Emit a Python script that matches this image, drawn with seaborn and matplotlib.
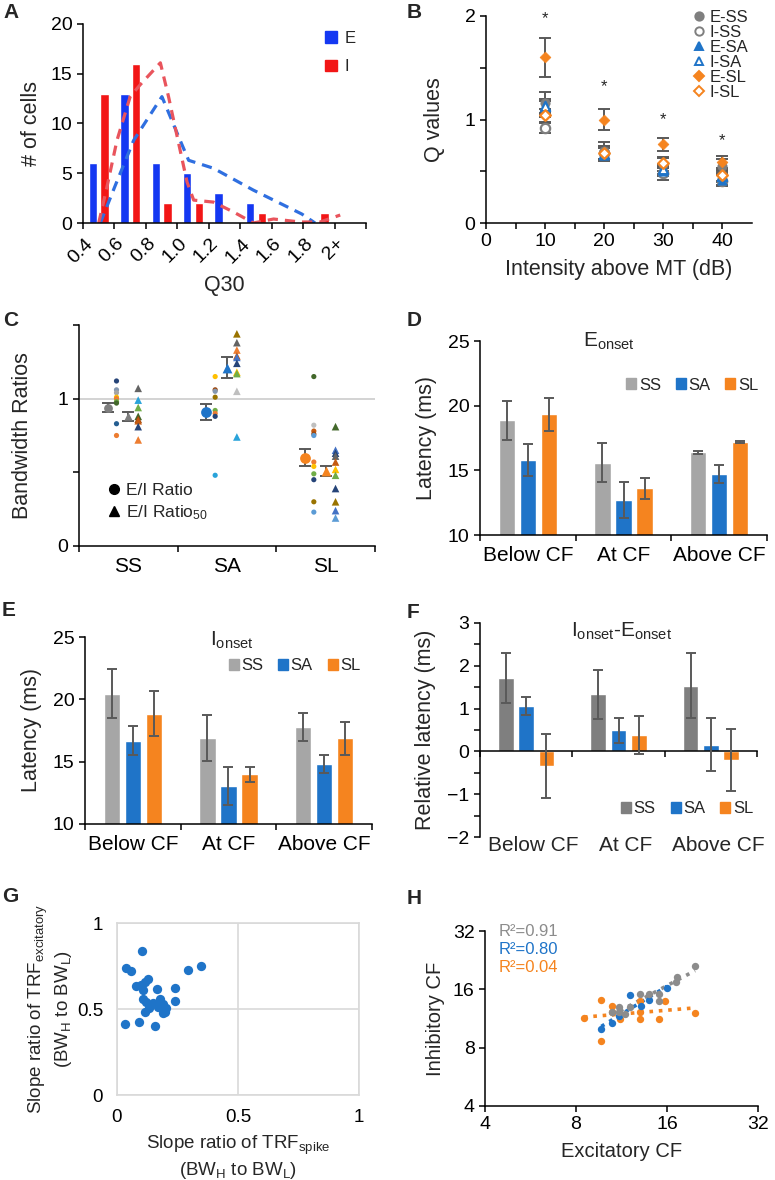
import numpy as np
import pandas as pd
import matplotlib
matplotlib.use("Agg")
import matplotlib.pyplot as plt
import matplotlib.transforms as mtransforms
import seaborn as sns
from matplotlib.patches import Patch
from matplotlib.lines import Line2D

sns.set_style("ticks")
plt.rcParams['font.family'] = ['Liberation Sans', 'DejaVu Sans']
plt.rcParams['mathtext.default'] = 'regular'
plt.rcParams['axes.linewidth'] = 1.1
plt.rcParams['xtick.major.width'] = 1.1
plt.rcParams['ytick.major.width'] = 1.1
plt.rcParams['xtick.minor.width'] = 1.1
plt.rcParams['ytick.minor.width'] = 1.1
plt.rcParams['xtick.major.size'] = 4
plt.rcParams['ytick.major.size'] = 4
plt.rcParams['xtick.minor.size'] = 4
plt.rcParams['ytick.minor.size'] = 4
plt.rcParams['axes.edgecolor'] = 'black'
plt.rcParams['xtick.color'] = 'black'
plt.rcParams['ytick.color'] = 'black'

# ---------------- DATA ----------------
# A : Q30 histogram
q30_labels = ['0.4', '0.6', '0.8', '1.0', '1.2', '1.4', '1.6', '1.8', '2+']
E_counts = [6, 13, 6, 5, 3, 2, 0, 0, 0]
I_counts = [13, 16, 2, 2, 0, 1, 0, 1, 0]
E_curve_pos = [0.55, 1.03, 1.61, 2.51, 3.09, 3.36, 4.15, 5.42, 6.96, 7.38]
E_curve_val = [0, 3.8, 8.3, 12.7, 8.3, 6.3, 5.5, 3.3, 0.9, 0]
I_curve_pos = [0.5, 0.76, 1.08, 1.5, 1.82, 2.46, 2.72, 3.09, 3.31, 3.52, 4.15, 4.79, 5.42,
               6.06, 6.91, 7.54, 8.18]
I_curve_val = [0, 3.6, 8.3, 12.7, 13.9, 16.1, 12.7, 7.3, 4.1, 2.3, 2.1, 1.1, 0, 0.4, 0.1, 0.1, 0.8]

# B : Q values vs intensity
B_x = [10, 20, 30, 40]
B_E_SS = [1.16, 0.70, 0.57, 0.55]; B_E_SS_err = [0.11, 0.08, 0.07, 0.07]
B_I_SS = [0.92, 0.68, 0.48, 0.41]; B_I_SS_err = [0.05, 0.06, 0.06, 0.05]
B_E_SA = [1.10, 0.66, 0.50, 0.42]; B_E_SA_err = [0.08, 0.06, 0.05, 0.05]
B_I_SA = [1.13, 0.67, 0.52, 0.45]; B_I_SA_err = [0.07, 0.05, 0.05, 0.05]
B_E_SL = [1.60, 1.00, 0.76, 0.59]; B_E_SL_err = [0.19, 0.10, 0.06, 0.06]
B_I_SL = [1.04, 0.68, 0.58, 0.46]; B_I_SL_err = [0.06, 0.06, 0.05, 0.05]
B_star_y = [1.97, 1.32, 1.00, 0.80]

# C : bandwidth ratios
C_cats = ['SS', 'SA', 'SL']
C_ratio_mean = [0.94, 0.91, 0.60]
C_ratio_err = [0.03, 0.055, 0.06]
C_ratio50_mean = [0.88, 1.21, 0.51]
C_ratio50_err = [0.03, 0.07, 0.035]
C_SS_ratio = [1.12, 1.06, 1.04, 1.01, 1.00, 0.98, 0.97, 0.83, 0.75]
C_SS_ratio_col = ['#264478', '#8497B0', '#A5A5A5', '#FFC000', '#ED7D31', '#70AD47', '#43682B', '#255E91', '#ED7D31']
C_SS_ratio50 = [1.07, 0.99, 0.94, 0.88, 0.86, 0.85, 0.81, 0.72]
C_SS_ratio50_col = ['#636363', '#29A3DA', '#70AD47', '#43682B', '#9E480E', '#C55A11', '#264478', '#ED7D31']
C_SA_ratio = [1.15, 1.06, 1.05, 1.01, 0.92, 0.90, 0.88, 0.48]
C_SA_ratio_col = ['#FFC000', '#9E480E', '#8497B0', '#997300', '#70AD47', '#ED7D31', '#264478', '#29A3DA']
C_SA_ratio50 = [1.44, 1.38, 1.33, 1.29, 1.28, 1.24, 1.18, 1.17, 1.05, 0.74]
C_SA_ratio50_col = ['#997300', '#636363', '#ED7D31', '#C55A11', '#4472C4', '#264478', '#FFC000', '#70AD47', '#BFBFBF', '#29A3DA']
C_SL_ratio = [1.15, 0.82, 0.78, 0.76, 0.75, 0.57, 0.54, 0.49, 0.45, 0.30, 0.23]
C_SL_ratio_col = ['#43682B', '#BFBFBF', '#C55A11', '#9E480E', '#5B9BD5', '#ED7D31', '#FFC000', '#70AD47', '#264478', '#997300', '#5B9BD5']
C_SL_ratio50 = [0.81, 0.65, 0.63, 0.61, 0.57, 0.52, 0.48, 0.39, 0.30, 0.24, 0.19]
C_SL_ratio50_col = ['#43682B', '#4472C4', '#264478', '#636363', '#C55A11', '#FFC000', '#70AD47', '#264478', '#997300', '#4472C4', '#5B9BD5']

# D, E, F : latencies
lat_cats = ['Below CF', 'At CF', 'Above CF']
lat_groups = ['SS', 'SA', 'SL']
D_mean = {'SS': [18.87, 15.6, 16.4], 'SA': [15.8, 12.7, 14.7], 'SL': [19.33, 13.6, 17.2]}
D_err = {'SS': [1.5, 1.5, 0.1], 'SA': [1.2, 1.4, 0.7], 'SL': [1.3, 0.8, 0.1]}
E_mean = {'SS': [20.45, 16.87, 17.77], 'SA': [16.68, 13.06, 14.8], 'SL': [18.86, 14.0, 16.87]}
E_err = {'SS': [1.95, 1.85, 1.15], 'SA': [1.15, 1.55, 0.7], 'SL': [1.8, 0.6, 1.3]}
F_mean = {'SS': [1.71, 1.33, 1.53], 'SA': [1.05, 0.49, 0.16], 'SL': [-0.35, 0.39, -0.20]}
F_err = {'SS': [0.58, 0.58, 0.76], 'SA': [0.21, 0.30, 0.62], 'SL': [0.75, 0.44, 0.72]}

# G : slope ratios
G_x = [0.105, 0.036, 0.059, 0.294, 0.349, 0.080, 0.100, 0.114, 0.128, 0.108, 0.166, 0.241,
       0.108, 0.121, 0.149, 0.177, 0.190, 0.241, 0.114, 0.132, 0.201, 0.190, 0.197, 0.033,
       0.091, 0.157, 0.170]
G_y = [0.836, 0.741, 0.721, 0.725, 0.750, 0.632, 0.638, 0.658, 0.677, 0.609, 0.619, 0.625,
       0.561, 0.542, 0.532, 0.561, 0.528, 0.545, 0.484, 0.503, 0.503, 0.474, 0.484, 0.412,
       0.422, 0.400, 0.513]

# H : CF comparison
H_SS_exc = [10.5, 11.1, 11.1, 12.1, 11.6, 13.0, 13.9, 15.0, 15.0, 17.1, 17.3, 19.8]
H_SS_inh = [12.2, 13.0, 12.2, 13.0, 12.0, 15.1, 15.1, 15.1, 14.0, 17.5, 18.6, 21.0]
H_SA_exc = [9.7, 10.5, 11.1, 12.1, 13.1, 13.9, 16.0]
H_SA_inh = [10.0, 10.7, 11.6, 15.0, 13.1, 14.1, 16.3]
H_SL_exc = [8.5, 9.7, 9.7, 10.5, 11.2, 13.0, 13.0, 13.0, 15.0, 15.8, 19.8, 10.5]
H_SL_inh = [11.4, 14.1, 8.7, 13.1, 11.3, 14.0, 12.2, 11.3, 11.3, 14.0, 12.1, 12.2]
H_r2_labels = ['R²=0.91', 'R²=0.80', 'R²=0.04']

# ---------------- STYLE ----------------
W, H = 775, 1180
fig = plt.figure(figsize=(W / 100, H / 100), dpi=100)


def rect(l, t, r, b):
    return [l / W, 1 - b / H, (r - l) / W, (b - t) / H]


TICK = 14
LAB = 15.5
ERRC = '#595959'
GREY = '#A6A6A6'
DGREY = '#7F7F7F'
BLUE = '#1F74C8'
ORANGE = '#F5841F'


def clean(ax):
    ax.spines['top'].set_visible(False)
    ax.spines['right'].set_visible(False)
    ax.tick_params(labelsize=TICK)


# ---------------- A ----------------
axA = fig.add_axes(rect(83, 24, 366, 223))
dfA = pd.DataFrame({'bin': list(range(9)) * 2, 'count': E_counts + I_counts,
                    'cell': ['E'] * 9 + ['I'] * 9})
blueA, redA = '#1438F2', '#F21616'
sns.barplot(data=dfA, x='bin', y='count', hue='cell', palette={'E': blueA, 'I': redA},
            width=0.74, gap=0.27, saturation=1, errorbar=None, legend=False, ax=axA)
sns.lineplot(x=np.array(E_curve_pos) - 0.5, y=E_curve_val, sort=False, color='#2F6FE0',
             linestyle=(0, (3.2, 2.2)), lw=2.3, ax=axA)
sns.lineplot(x=np.array(I_curve_pos) - 0.5, y=I_curve_val, sort=False, color='#E9545C',
             linestyle=(0, (3.2, 2.2)), lw=2.3, ax=axA)
axA.set_xlim(-0.5, 8.5)
axA.set_ylim(0, 20)
axA.set_yticks([0, 5, 10, 15, 20])
axA.set_xticks(np.arange(-0.5, 9.0, 1.0))
axA.set_xticklabels(q30_labels + [''], rotation=45, ha='right', va='center',
                    rotation_mode='anchor')
clean(axA)
axA.tick_params(axis='x', labelsize=14, pad=9)
off = mtransforms.ScaledTranslation(7 / 100, 0, fig.dpi_scale_trans)
for lbl in axA.get_xticklabels():
    lbl.set_transform(lbl.get_transform() + off)
axA.set_xlabel('Q30', fontsize=LAB, labelpad=6)
axA.set_ylabel('# of cells', fontsize=LAB, labelpad=6)
axA.legend(handles=[Patch(color=blueA, label='E'), Patch(color=redA, label='I')],
           loc='upper left', bbox_to_anchor=((310 - 83) / 283, 1.04), frameon=False,
           handlelength=0.7, handleheight=0.7, handletextpad=0.5, labelspacing=0.8, fontsize=12)

# ---------------- B ----------------
axB = fig.add_axes(rect(486, 16, 752, 223))
B_series = [('E-SS', B_E_SS, B_E_SS_err, 'o', DGREY, True),
            ('I-SS', B_I_SS, B_I_SS_err, 'o', DGREY, False),
            ('E-SA', B_E_SA, B_E_SA_err, '^', BLUE, True),
            ('I-SA', B_I_SA, B_I_SA_err, '^', BLUE, False),
            ('E-SL', B_E_SL, B_E_SL_err, 'D', ORANGE, True),
            ('I-SL', B_I_SL, B_I_SL_err, 'D', ORANGE, False)]
handles = []
for lab, vals, err, mk, col, filled in B_series:
    axB.errorbar(B_x, vals, yerr=err, fmt='none', ecolor=ERRC, elinewidth=1.4,
                 capsize=4, capthick=1.4, zorder=2)
for lab, vals, err, mk, col, filled in B_series:
    s = 45 if mk != 'D' else 30
    if filled:
        sns.scatterplot(x=B_x, y=vals, marker=mk, color=col, edgecolor=col, s=s,
                        linewidth=0.5, ax=axB, zorder=3)
    else:
        sns.scatterplot(x=B_x, y=vals, marker=mk, color='white', edgecolor=col, s=s,
                        linewidth=1.6, ax=axB, zorder=3)
    handles.append(Line2D([], [], ls='none', marker=mk, markersize=6 if mk != 'D' else 5,
                          markerfacecolor=col if filled else 'white', markeredgecolor=col,
                          markeredgewidth=1.4, label=lab))
for xv, yv in zip(B_x, B_star_y):
    axB.text(xv, yv, '*', ha='center', va='center', fontsize=12)
axB.set_xlim(0, 45)
axB.set_ylim(0, 2)
axB.set_xticks([0, 10, 20, 30, 40])
axB.set_xticks(np.arange(5, 45, 10), minor=True)
axB.set_yticks([0, 1, 2])
axB.set_yticks([0.5, 1.5], minor=True)
clean(axB)
axB.set_xlabel('Intensity above MT (dB)', fontsize=LAB, labelpad=6)
axB.set_ylabel('Q values', fontsize=LAB, labelpad=14)
axB.legend(handles=handles, loc='upper right', bbox_to_anchor=(758 / W, 1 - 0 / H),
           bbox_transform=fig.transFigure, frameon=False, fontsize=12, labelspacing=0.0,
           handletextpad=0.1, handlelength=1.0, borderpad=0.1)

# ---------------- C ----------------
axC = fig.add_axes(rect(79, 325, 375, 546))
axC.axhline(1.0, color='#D0D0D0', lw=1.3, zorder=0)
C_dots = [(C_SS_ratio, C_SS_ratio_col), (C_SA_ratio, C_SA_ratio_col), (C_SL_ratio, C_SL_ratio_col)]
C_tris = [(C_SS_ratio50, C_SS_ratio50_col), (C_SA_ratio50, C_SA_ratio50_col),
          (C_SL_ratio50, C_SL_ratio50_col)]
mean_cols = [DGREY, BLUE, ORANGE]
for i in range(3):
    vals, cols = C_dots[i]
    sns.scatterplot(x=[i - 0.12] * len(vals), y=vals, hue=cols, palette={c: c for c in cols},
                    s=14, linewidth=0, legend=False, ax=axC, zorder=3)
    vals, cols = C_tris[i]
    sns.scatterplot(x=[i + 0.10] * len(vals), y=vals, hue=cols, palette={c: c for c in cols},
                    marker='^', s=30, linewidth=0, legend=False, ax=axC, zorder=3)
    axC.errorbar([i - 0.21], [C_ratio_mean[i]], yerr=[C_ratio_err[i]], fmt='none', ecolor=ERRC,
                 elinewidth=1.4, capsize=4, capthick=1.4, zorder=2)
    axC.errorbar([i + 0.0], [C_ratio50_mean[i]], yerr=[C_ratio50_err[i]], fmt='none', ecolor=ERRC,
                 elinewidth=1.4, capsize=4, capthick=1.4, zorder=2)
    sns.scatterplot(x=[i - 0.21], y=[C_ratio_mean[i]], color=mean_cols[i], s=60 if i else 40,
                    linewidth=0, ax=axC, zorder=4)
    sns.scatterplot(x=[i + 0.0], y=[C_ratio50_mean[i]], color=mean_cols[i], marker='^',
                    s=50 if i else 35, linewidth=0, ax=axC, zorder=4)
axC.set_xlim(-0.5, 2.5)
axC.set_ylim(0, 1.5)
axC.set_yticks([0, 0.5, 1, 1.5])
axC.set_yticklabels(['0', '', '1', ''])
axC.set_xticks([-0.5, 0.5, 1.5, 2.5])
axC.set_xticklabels([''] * 4)
axC.set_xticks([0, 1, 2], minor=True)
axC.set_xticklabels(C_cats, minor=True)
clean(axC)
axC.tick_params(axis='x', which='minor', length=0, labelsize=15, pad=8)
axC.set_ylabel('Bandwidth Ratios', fontsize=LAB, labelpad=18)
axC.legend(handles=[Line2D([], [], ls='none', marker='o', color='black', markersize=7,
                           label='E/I Ratio'),
                    Line2D([], [], ls='none', marker='^', color='black', markersize=7,
                           label='E/I Ratio$_{50}$')],
           loc='lower left', bbox_to_anchor=(0.03, 0.04), frameon=False, fontsize=12.5,
           labelspacing=0.25, handletextpad=0.1, handlelength=1.2)


# ---------------- D, E, F ----------------
def bar_panel(ax, means, errs, palette):
    rows = []
    for g in lat_groups:
        for ci, cat in enumerate(lat_cats):
            rows.append((cat, g, means[g][ci]))
    df = pd.DataFrame(rows, columns=['pos', 'grp', 'val'])
    sns.barplot(data=df, x='pos', y='val', hue='grp', order=lat_cats, hue_order=lat_groups,
                palette=palette, width=0.66, gap=0.23, saturation=1, errorbar=None,
                legend=False, ax=ax)
    for cont, g in zip(ax.containers, lat_groups):
        xs = [p.get_x() + p.get_width() / 2 for p in cont]
        ax.errorbar(xs, means[g], yerr=errs[g], fmt='none', ecolor=ERRC, elinewidth=1.4,
                    capsize=3.5, capthick=1.4, zorder=3)
    ax.set_xlim(-0.5, 2.5)
    ax.set_xticks([-0.5, 0.5, 1.5, 2.5])
    ax.set_xticklabels([''] * 4)
    ax.set_xlabel('')
    clean(ax)


def bar_legend(ax, palette, x, y):
    ax.legend(handles=[Patch(color=palette[g], label=g) for g in lat_groups],
              loc='center left', bbox_to_anchor=(x, y), ncol=3, frameon=False, fontsize=12,
              handlelength=0.6, handleheight=0.6, handletextpad=0.15, columnspacing=0.9,
              borderpad=0, borderaxespad=0)


palDE = {'SS': GREY, 'SA': BLUE, 'SL': ORANGE}
palF = {'SS': DGREY, 'SA': BLUE, 'SL': ORANGE}

axD = fig.add_axes(rect(480, 341, 767, 535))
bar_panel(axD, D_mean, D_err, palDE)
axD.set_ylim(10, 25)
axD.set_yticks([10, 15, 20, 25])
axD.set_xticks([0, 1, 2], minor=True)
axD.set_xticklabels(lat_cats, minor=True)
axD.tick_params(axis='x', which='minor', length=0, labelsize=15, pad=8)
axD.set_ylabel('Latency (ms)', fontsize=LAB, labelpad=8)
axD.text(0.45, 1.0, 'E$_{onset}$', transform=axD.transAxes, ha='center', va='center',
         fontsize=15)
bar_legend(axD, palDE, 0.51, 0.773)

axE = fig.add_axes(rect(85, 637, 372, 824))
bar_panel(axE, E_mean, E_err, palDE)
axE.set_ylim(10, 25)
axE.set_yticks([10, 15, 20, 25])
axE.set_xticks([0, 1, 2], minor=True)
axE.set_xticklabels(lat_cats, minor=True)
axE.tick_params(axis='x', which='minor', length=0, labelsize=15, pad=8)
axE.set_ylabel('Latency (ms)', fontsize=LAB, labelpad=8)
axE.text(0.51, 0.98, 'I$_{onset}$', transform=axE.transAxes, ha='center', va='center',
         fontsize=15)
bar_legend(axE, palDE, 0.50, 0.845)

axF = fig.add_axes(rect(480, 623, 757, 837))
bar_panel(axF, F_mean, F_err, palF)
axF.set_ylim(-2, 3)
axF.set_yticks(range(-2, 4))
axF.set_yticks(np.arange(-1.5, 3, 1.0), minor=True)
axF.spines['bottom'].set_position(('data', 0))
trF = mtransforms.blended_transform_factory(axF.transData, axF.transAxes)
for ci, cat in enumerate(lat_cats):
    axF.text(ci + 0.08, -0.04, cat, transform=trF, ha='center', va='center', fontsize=15)
axF.set_ylabel('Relative latency (ms)', fontsize=LAB, labelpad=8)
axF.text(0.51, 0.96, 'I$_{onset}$-E$_{onset}$', transform=axF.transAxes, ha='center',
         va='center', fontsize=15)
bar_legend(axF, palF, 0.51, 0.131)

# ---------------- G ----------------
axG = fig.add_axes(rect(117, 923, 359, 1095))
sns.scatterplot(x=G_x, y=G_y, color=BLUE, s=45, linewidth=0, ax=axG, zorder=3)
axG.set_xlim(0, 1)
axG.set_ylim(0, 1)
axG.set_xticks([0, 0.5, 1])
axG.set_xticklabels(['0', '0.5', '1'])
axG.set_yticks([0, 0.5, 1])
axG.set_yticklabels(['0', '0.5', '1'])
axG.grid(True, color='#D9D9D9', lw=1.2)
axG.set_axisbelow(True)
for sp in axG.spines.values():
    sp.set_color('#D9D9D9')
    sp.set_linewidth(1.2)
axG.tick_params(length=0, labelsize=13.5, pad=10)
axG.set_xlabel('Slope ratio of TRF$_{spike}$\n(BW$_H$ to BW$_L$)', fontsize=13.5, labelpad=6)
axG.set_ylabel('Slope ratio of TRF$_{excitatory}$\n(BW$_H$ to BW$_L$)', fontsize=13.5,
               labelpad=2)

# ---------------- H ----------------
axH = fig.add_axes(rect(485, 931, 758, 1106))
H_groups = [(H_SS_exc, H_SS_inh, '#8C8C8C'), (H_SA_exc, H_SA_inh, BLUE),
            (H_SL_exc, H_SL_inh, ORANGE)]
for ex, inh, col in [H_groups[2], H_groups[1], H_groups[0]]:
    sns.scatterplot(x=ex, y=inh, color=col, s=28, linewidth=0, ax=axH, zorder=3)
for ex, inh, col in H_groups:
    lx, ly = np.log2(ex), np.log2(inh)
    k, b = np.polyfit(lx, ly, 1)
    xs = np.linspace(lx.min(), lx.max(), 50)
    sns.lineplot(x=2 ** xs, y=2 ** (k * xs + b), color=col, linestyle=(0, (1, 1.6)), lw=2.6,
                 ax=axH, zorder=2)
axH.set_xscale('log', base=2)
axH.set_yscale('log', base=2)
axH.set_xlim(4, 32)
axH.set_ylim(4, 32)
axH.set_xticks([4, 8, 16, 32])
axH.set_xticklabels(['4', '8', '16', '32'])
axH.set_yticks([4, 8, 16, 32])
axH.set_yticklabels(['4', '8', '16', '32'])
axH.minorticks_off()
clean(axH)
axH.set_xlabel('Excitatory CF', fontsize=14.5, labelpad=6)
axH.set_ylabel('Inhibitory CF', fontsize=14.5, labelpad=6)
for lbl, (ex, inh, col), yy in zip(H_r2_labels, H_groups, [1.0, 0.895, 0.79]):
    axH.text(0.05, yy, lbl, transform=axH.transAxes, color=col, fontsize=12, va='center')

# ---------------- panel letters ----------------
for letter, (px, py) in {'A': (3, 12), 'B': (407, 12), 'C': (3, 321), 'D': (407, 321),
                         'E': (2, 611), 'F': (407, 613), 'G': (2, 896), 'H': (407, 898)}.items():
    fig.text(px / W, 1 - py / H, letter, fontsize=15, fontweight='bold', va='center', ha='left')

fig.savefig('out.png', dpi=100)
